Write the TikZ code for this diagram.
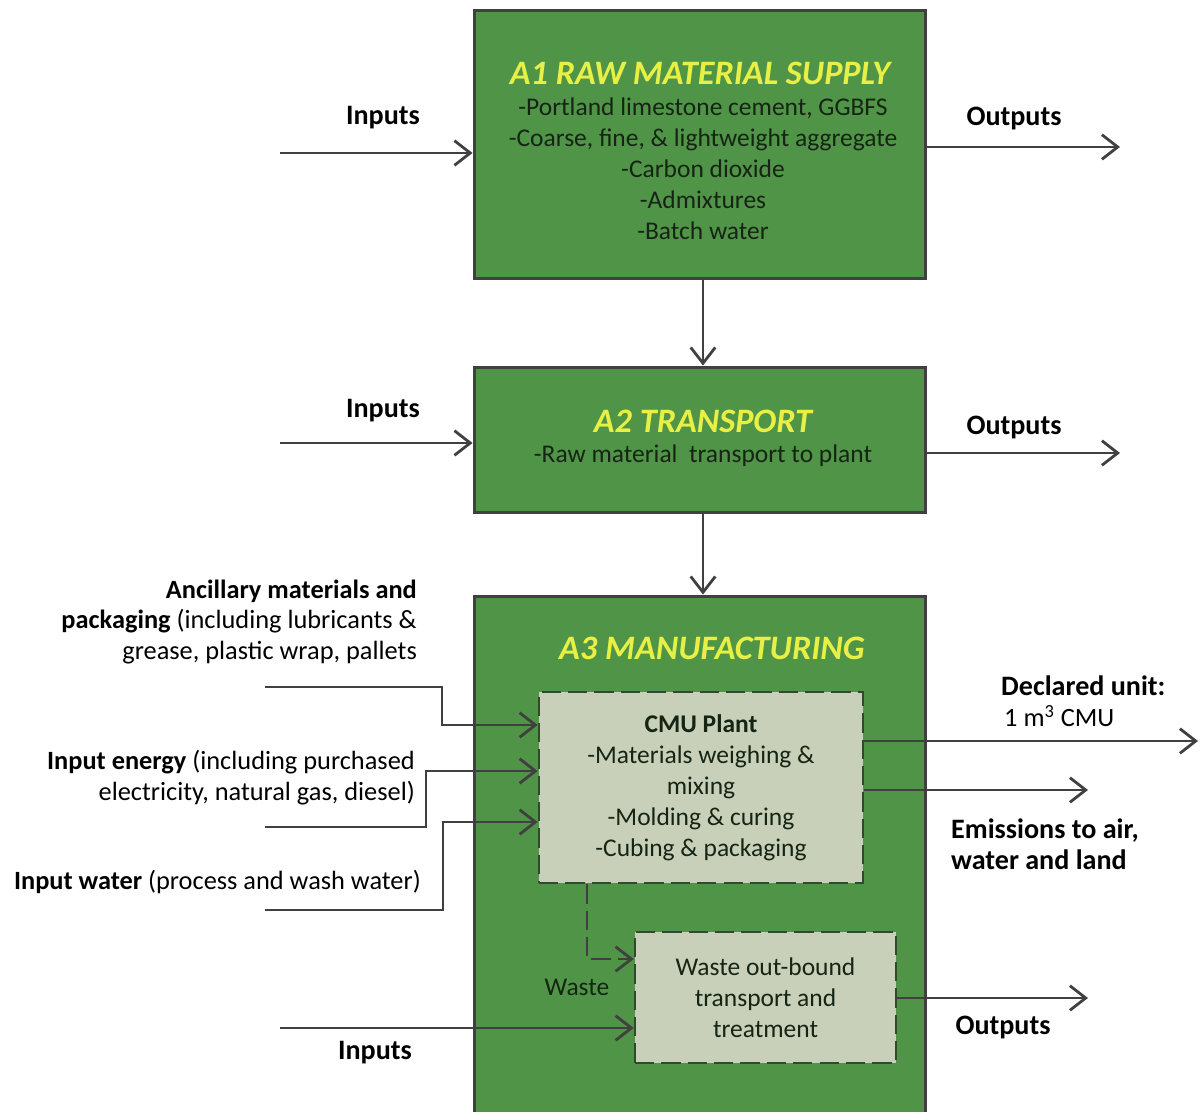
\documentclass[tikz,border=0pt]{standalone}
\usepackage{fontspec}
\setmainfont{Carlito}
\usetikzlibrary{arrows.meta}
\usetikzlibrary{calc}
\usetikzlibrary{positioning}
\definecolor{stage-green}{RGB}{80, 148, 72}
\definecolor{stage-edge}{RGB}{64, 64, 64}
\definecolor{title-yellow}{RGB}{232, 240, 70}
\definecolor{plant-grey}{RGB}{200, 208, 186}
\definecolor{dash-edge}{RGB}{52, 72, 48}
\definecolor{line-grey}{RGB}{64, 64, 64}
\definecolor{text-dark}{RGB}{22, 36, 20}

\begin{document}
\begin{tikzpicture}[x=0.02cm, y=-0.02cm,
        stage/.style={draw=stage-edge, fill=stage-green, line width=1.7pt, minimum width=9.04cm},
        plant/.style={draw=dash-edge, fill=plant-grey, line width=1.5pt, dash pattern=on 11pt off 4pt,
            align=center, text=text-dark, inner sep=0pt, font=\fontsize{14.5}{17.6}\selectfont},
        stagetitle/.style={text=title-yellow, font=\fontsize{19.5}{22}\selectfont\bfseries\itshape},
        stagetext/.style={text=text-dark, align=center, font=\fontsize{14.5}{17.6}\selectfont},
        lbl/.style={font=\fontsize{16}{17.6}\selectfont\bfseries},
        side/.style={align=right, anchor=east, font=\fontsize{15}{17.6}\selectfont},
        arr/.style={draw=line-grey, line width=1.6pt, -{Straight Barb[length=9pt, width=14pt]}}]
    \useasboundingbox (0, 0) rectangle (1201, 1112);

    % stages
    \node[stage, minimum height=5.38cm] (a1) at (700, 144.5) {};
    \node[stage, minimum height=2.92cm] (a2) at (700, 440) {};
    \node[stage, minimum height=10.68cm] (a3) at (700, 863) {};
    \node[stagetitle] (a1title) at (700, 73) {A1 RAW MATERIAL SUPPLY};
    \node[stagetext] (a1list) at (703, 169) {-Portland limestone cement, GGBFS\\-Coarse, fine, \& lightweight aggregate\\-Carbon dioxide\\-Admixtures\\-Batch water};
    \node[stagetitle] (a2title) at (703, 421) {A2 TRANSPORT};
    \node[stagetext] (a2list) at (703, 456) {-Raw material\ \ transport to plant};
    \node[stagetitle] (a3title) at (712, 648) {A3 MANUFACTURING};

    % inside A3
    \node[plant, minimum width=6.48cm, minimum height=3.82cm] (cmu) at (701, 787.5) {\textbf{CMU Plant}\\-Materials weighing \&\\mixing\\-Molding \& curing\\-Cubing \& packaging};
    \node[plant, minimum width=5.22cm, minimum height=2.62cm] (waste) at (765.5, 997.5) {Waste out-bound\\transport and\\treatment};
    \node[stagetext] (wastelbl) at (577, 987) {Waste};

    % labels
    \node[lbl] (in1lbl) at (383, 118) {Inputs};
    \node[lbl] (out1lbl) at (1014, 118) {Outputs};
    \node[lbl] (in2lbl) at (383, 411) {Inputs};
    \node[lbl] (out2lbl) at (1014, 427) {Outputs};
    \node[lbl] (in4lbl) at (375, 1053) {Inputs};
    \node[lbl] (out4lbl) at (1003, 1027) {Outputs};
    \node[side] (anclbl) at (423, 622) {\textbf{Ancillary materials and}\\\textbf{packaging} (including lubricants \&\\grease, plastic wrap, pallets};
    \node[side] (englbl) at (421, 777.5) {\textbf{Input energy}\ (including purchased\\electricity, natural gas, diesel)};
    \node[side] (watlbl) at (427, 882) {\textbf{Input water} (process and wash water)};
    \node[lbl, anchor=west] (dulbl) at (995, 686) {Declared unit:};
    \node[anchor=west, font=\fontsize{15}{17.6}\selectfont] (duval) at (998, 716) {1 m\textsuperscript{3} CMU};
    \node[lbl, anchor=west, align=left] (emlbl) at (945, 844.5) {Emissions to air,\\water and land};

    % free ends
    \coordinate (in1) at (280, 153);
    \coordinate (out1) at (1120, 147);
    \coordinate (in2) at (280, 443);
    \coordinate (out2) at (1120, 453);
    \coordinate (anc) at (265, 687);
    \coordinate (eng) at (265, 827);
    \coordinate (wat) at (265, 910);
    \coordinate (du) at (1198, 741);
    \coordinate (em) at (1088, 790);
    \coordinate (in4) at (280, 1028);
    \coordinate (out4) at (1088, 998);

    % connectors
    \draw[arr] (a1.south -| 703, 0) -- (a2.north -| 703, 0);
    \draw[arr] (a2.south -| 703, 0) -- (a3.north -| 703, 0);
    \draw[arr] (in1) -- (in1 -| a1.west);
    \draw[arr] (a1.east |- out1) -- (out1);
    \draw[arr] (in2) -- (in2 -| a2.west);
    \draw[arr] (a2.east |- out2) -- (out2);
    \draw[arr] (anc) -| (442, 725) -- (cmu.west |- 0, 725);
    \draw[arr] (eng) -| (426, 771) -- (cmu.west |- 0, 771);
    \draw[arr] (wat) -| (443, 822) -- (cmu.west |- 0, 822);
    \draw[arr] (cmu.east |- du) -- (du);
    \draw[arr] (cmu.east |- em) -- (em);
    \draw[arr, dash pattern=on 11pt off 4pt] (cmu.south -| 587, 0) |- (waste.west |- 0, 959);
    \draw[arr] (in4) -- (in4 -| waste.west);
    \draw[arr] (waste.east |- out4) -- (out4);
\end{tikzpicture}
\end{document}
